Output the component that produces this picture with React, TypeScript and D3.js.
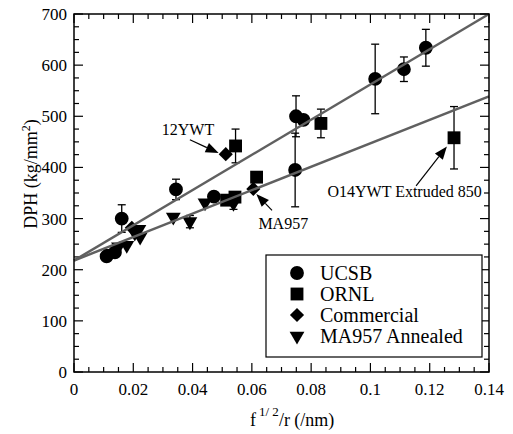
import React from "react";
import * as d3 from "d3";

const layout = {
  width: 513,
  height: 434,
  left: 74,
  right: 489,
  top: 14,
  bottom: 372
};

// [x, DPH, error]
const ucsb = [
  [0.011, 226, 7],
  [0.0138, 234, 0],
  [0.0161, 300, 27],
  [0.0344, 357, 20],
  [0.0472, 343, 0],
  [0.0749, 500, 40],
  [0.0774, 493, 0],
  [0.0746, 395, 72],
  [0.1016, 573, 68],
  [0.1113, 592, 24],
  [0.1187, 634, 36]
];
const ornl = [
  [0.0545, 442, 33],
  [0.0616, 381, 0],
  [0.0515, 336, 0],
  [0.0543, 342, 0],
  [0.0833, 486, 28],
  [0.1282, 458, 61]
];
const commercial = [
  [0.0512, 426, 0],
  [0.0605, 358, 0],
  [0.0195, 282, 0]
];
const annealed = [
  [0.0121, 232, 6],
  [0.015, 245, 0],
  [0.0178, 248, 0],
  [0.0205, 272, 0],
  [0.0219, 279, 0],
  [0.0223, 264, 0],
  [0.0335, 303, 0],
  [0.0391, 294, 12],
  [0.0442, 331, 0],
  [0.0538, 330, 12]
];

const upperFit = [[0, 218], [0.14, 700]];
const lowerFit = [[0, 218], [0.14, 539]];

const xTicks = [0, 0.02, 0.04, 0.06, 0.08, 0.1, 0.12, 0.14];
const yTicks = [0, 100, 200, 300, 400, 500, 600, 700];

const legendNames = ["UCSB", "ORNL", "Commercial", "MA957 Annealed"];

// text, text position, arrow tail, arrow tip (data coords)
const notes = [
  { label: "12YWT", at: [0.0296, 463], from: [0.0391, 454], to: [0.0488, 428] },
  { label: "MA957", at: [0.0622, 280], from: [0.0668, 316], to: [0.0615, 348] },
  { label: "O14YWT Extruded 850", at: [0.0855, 342], from: [0.1154, 364], to: [0.1258, 441] }
];

const font = "'Liberation Serif', 'Times New Roman', serif";

const xScale = d3.scaleLinear().domain([0, 0.14]).range([layout.left, layout.right]);
const yScale = d3.scaleLinear().domain([0, 700]).range([layout.bottom, layout.top]);

const symbols = [
  { type: d3.symbolCircle, size: 150, rotate: 0 },
  { type: d3.symbolSquare, size: 165, rotate: 0 },
  { type: d3.symbolSquare, size: 100, rotate: 45 },
  { type: d3.symbolTriangle, size: 95, rotate: 180 }
];

function Marker({ x, y, kind }) {
  const s = symbols[kind];
  const d = d3.symbol().type(s.type).size(s.size)();
  return <path d={d} transform={`translate(${x},${y}) rotate(${s.rotate})`} fill="#000" />;
}

function Arrow({ from, to }) {
  const x1 = xScale(from[0]), y1 = yScale(from[1]);
  const x2 = xScale(to[0]), y2 = yScale(to[1]);
  const ang = Math.atan2(y2 - y1, x2 - x1);
  const len = 13, w = 5;
  const bx = x2 - len * Math.cos(ang), by = y2 - len * Math.sin(ang);
  const px = -Math.sin(ang) * w, py = Math.cos(ang) * w;
  return (
    <g>
      <line x1={x1} y1={y1} x2={bx} y2={by} stroke="#000" strokeWidth={1.2} />
      <polygon points={`${x2},${y2} ${bx + px},${by + py} ${bx - px},${by - py}`} fill="#000" />
    </g>
  );
}

export default function App() {
  const series = [ucsb, ornl, commercial, annealed];
  const line = d3.line().x(d => xScale(d[0])).y(d => yScale(d[1]));

  const xMinor = d3.range(0, 0.14001, 0.005);
  const yMinor = d3.range(0, 700.1, 25);

  return (
    <div style={{ position: "absolute", left: 0, top: 0 }}>
      <svg width={layout.width} height={layout.height} style={{ display: "block", background: "#fff" }}>
        {/* ticks on all four sides, pointing in */}
        <g stroke="#000" strokeWidth={1.2}>
          {xMinor.map((v, i) => {
            const major = i % 4 === 0;
            const l = major ? 9 : 5;
            const x = xScale(v);
            return (
              <g key={"xt" + i}>
                <line x1={x} x2={x} y1={layout.bottom} y2={layout.bottom - l} />
                <line x1={x} x2={x} y1={layout.top} y2={layout.top + l} />
              </g>
            );
          })}
          {yMinor.map((v, i) => {
            const major = i % 4 === 0;
            const l = major ? 9 : 5;
            const y = yScale(v);
            return (
              <g key={"yt" + i}>
                <line x1={layout.left} x2={layout.left + l} y1={y} y2={y} />
                <line x1={layout.right} x2={layout.right - l} y1={y} y2={y} />
              </g>
            );
          })}
        </g>

        {/* error bars */}
        <g stroke="#000" strokeWidth={1.3}>
          {series.map((s, si) =>
            s.filter(d => d[2] > 0).map((d, i) => {
              const x = xScale(d[0]);
              const y0 = yScale(d[1] - d[2]), y1 = yScale(d[1] + d[2]);
              return (
                <g key={`e${si}-${i}`}>
                  <line x1={x} x2={x} y1={y0} y2={y1} />
                  <line x1={x - 4} x2={x + 4} y1={y0} y2={y0} />
                  <line x1={x - 4} x2={x + 4} y1={y1} y2={y1} />
                </g>
              );
            })
          )}
        </g>

        {/* markers */}
        {series.map((s, si) =>
          s.map((d, i) => <Marker key={`m${si}-${i}`} x={xScale(d[0])} y={yScale(d[1])} kind={si} />)
        )}

        {/* fit lines */}
        <path d={line(upperFit)} fill="none" stroke="#606060" strokeWidth={2.5} />
        <path d={line(lowerFit)} fill="none" stroke="#606060" strokeWidth={2.5} />

        {/* frame */}
        <rect
          x={layout.left}
          y={layout.top}
          width={layout.right - layout.left}
          height={layout.bottom - layout.top}
          fill="none"
          stroke="#000"
          strokeWidth={1.5}
        />

        {/* tick labels */}
        <g fontFamily={font} fontSize={17} fill="#000">
          {xTicks.map(v => (
            <text key={"xl" + v} x={xScale(v)} y={layout.bottom + 23} textAnchor="middle">
              {String(+v.toFixed(2))}
            </text>
          ))}
          {yTicks.map(v => (
            <text key={"yl" + v} x={layout.left - 7} y={yScale(v) + 6} textAnchor="end">
              {v}
            </text>
          ))}
        </g>

        {/* axis titles */}
        <text x={250} y={426} fontFamily={font} fontSize={18}>
          f<tspan dx={3} dy={-10} fontSize={13}>1/ 2</tspan>
          <tspan dy={10}>/r (/nm)</tspan>
        </text>
        <text
          transform={`translate(37,${(layout.top + layout.bottom) / 2 - 19}) rotate(-90)`}
          textAnchor="middle"
          fontFamily={font}
          fontSize={18}
        >
          DPH (kg/mm<tspan dy={-7} fontSize={12}>2</tspan>
          <tspan dy={7}>)</tspan>
        </text>

        {/* annotations */}
        {notes.map(n => (
          <g key={n.label}>
            <text x={xScale(n.at[0])} y={yScale(n.at[1])} fontFamily={font} fontSize={16}>
              {n.label}
            </text>
            <Arrow from={n.from} to={n.to} />
          </g>
        ))}

        {/* legend */}
        <g>
          <rect x={266} y={255} width={216} height={102} fill="#fff" stroke="#000" strokeWidth={1.2} />
          {legendNames.map((name, i) => (
            <g key={name} transform={`translate(0,${273 + i * 21})`}>
              <Marker x={297} y={0} kind={i} />
              <text x={320} y={7} fontFamily={font} fontSize={20}>
                {name}
              </text>
            </g>
          ))}
        </g>
      </svg>
    </div>
  );
}
